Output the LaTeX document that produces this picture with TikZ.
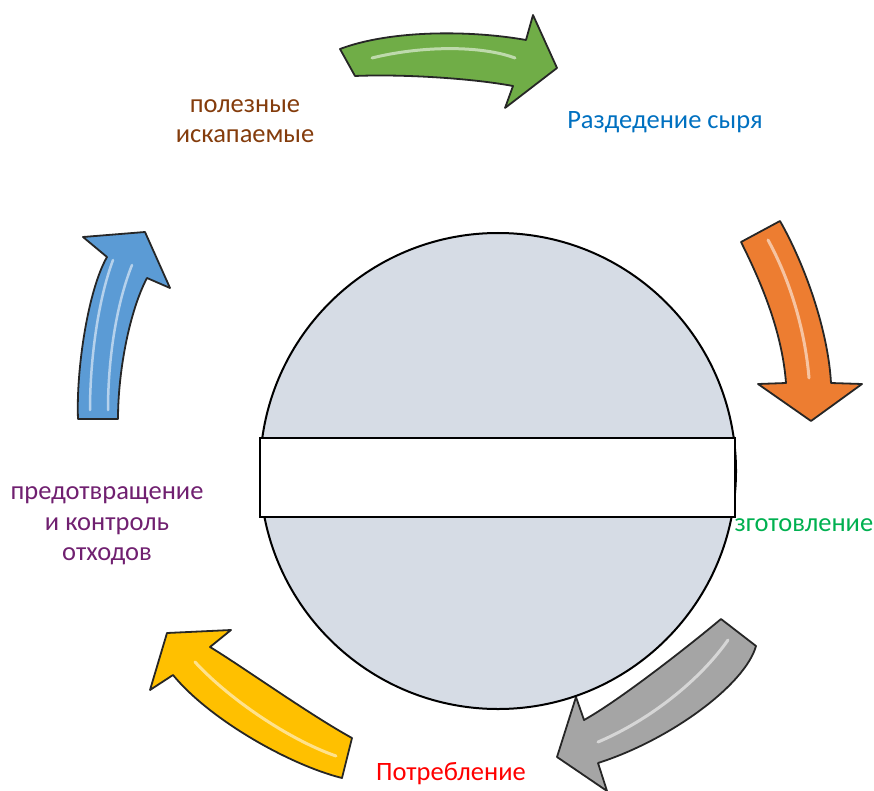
\documentclass[tikz,border=0pt]{standalone}
\usepackage{fontspec}
\setmainfont{Carlito}
\definecolor{leafgreen}{RGB}{112,173,71}
\definecolor{rustorange}{RGB}{237,125,49}
\definecolor{steelgray}{RGB}{165,165,165}
\definecolor{sunyellow}{RGB}{255,192,0}
\definecolor{skyblue}{RGB}{91,155,213}
\definecolor{hubfill}{RGB}{214,220,229}
\definecolor{oretext}{RGB}{132,60,12}
\definecolor{rawtext}{RGB}{0,112,192}
\definecolor{maketext}{RGB}{0,176,80}
\definecolor{wastetext}{RGB}{112,32,112}
\tikzset{
every node/.style={font=\fontsize{26.5}{30.5}\selectfont, align=center}, % all labels in one size
cycle arrow/.style={draw=black!85, line width=1.8pt, line join=round}, % outline of the block arrows
gloss/.style={white, opacity=0.55, line width=3pt, line cap=round}, % light streak on each arrow
}

\begin{document}
\begin{tikzpicture}[x=1pt, y=-1pt]
              \useasboundingbox (0,0) rectangle (874,791);

              % block arrows round the cycle
              \draw[cycle arrow, fill=leafgreen] (340,49) .. controls (390,30) and (470,30) .. (526,40) -- (533,15) -- (557,68) -- (505,108) -- (513,86) .. controls (470,78) and (400,74) .. (355,76) -- cycle;
              \draw[gloss] (372,58) .. controls (420,46) and (480,45) .. (515,58);

              \draw[cycle arrow, fill=rustorange] (741,242) -- (780,221) .. controls (805,265) and (828,330) .. (831,383) -- (862,384) -- (811,421) -- (758,384) -- (786,383) .. controls (782,330) and (760,280) .. (741,242) -- cycle;
              \draw[gloss] (768,240) .. controls (790,280) and (805,330) .. (809,378);

              \draw[cycle arrow, fill=steelgray] (721,619) -- (756,646) .. controls (745,685) and (670,740) .. (598,763) -- (607,791) -- (557,757) -- (576,697) -- (584,720) .. controls (620,700) and (690,645) .. (721,619) -- cycle;
              \draw[gloss] (728,640) .. controls (700,680) and (650,720) .. (598,742);

              \draw[cycle arrow, fill=sunyellow] (352,738) -- (342,778) .. controls (290,765) and (210,720) .. (173,675) -- (150,690) -- (167,633) -- (231,630) -- (210,647) .. controls (240,665) and (310,715) .. (352,738) -- cycle;
              \draw[gloss] (336,756) .. controls (290,740) and (230,700) .. (195,662);

              \draw[cycle arrow, fill=skyblue] (78,419) -- (118,419) .. controls (118,370) and (130,310) .. (147,278) -- (170,288) -- (145,232) -- (83,237) -- (107,257) .. controls (88,290) and (76,370) .. (78,419) -- cycle;
              \draw[gloss, line width=2.5pt] (90,410) .. controls (90,360) and (98,300) .. (113,260);
              \draw[gloss, line width=2.5pt] (108,410) .. controls (108,360) and (116,305) .. (132,265);

              % stage labels
              \node[text=oretext] (ore) at (245,121) {полезные\\искапаемые};
              \node[text=rawtext] (raw) at (665,122) {Раздедение сыря};
              \node[text=maketext, anchor=west] (make) at (731,525) {зготовление};
              \node[text=red] (use) at (451,774) {Потребление};
              \node[text=wastetext] (waste) at (107,526) {предотвращение\\и контроль\\отходов};

              % hub with the empty bar across it
              \node[circle, draw, line width=2pt, fill=hubfill, minimum size=476pt, inner sep=0pt] (hub) at (498,471) {};
              \node[draw, line width=1.5pt, fill=white, minimum width=475pt, minimum height=79pt, inner sep=0pt] (bar) at (497.5,477.5) {};
            \end{tikzpicture}
\end{document}
